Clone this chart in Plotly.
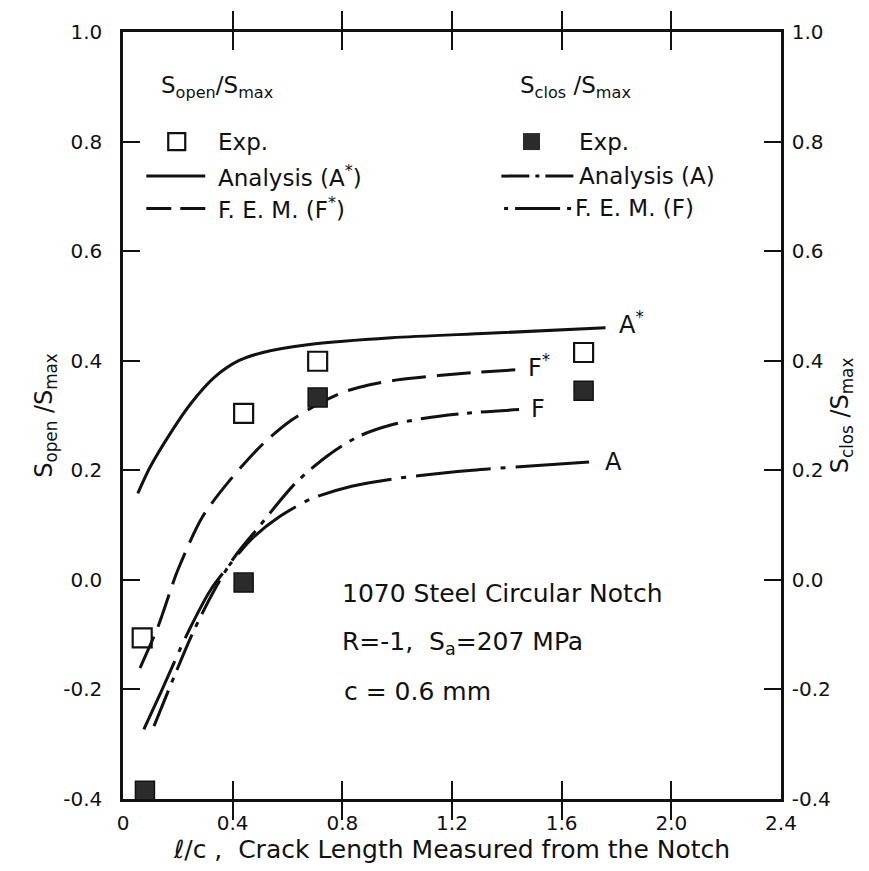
import plotly.graph_objects as go

# ---- data ----
open_exp_x = [0.07, 0.44, 0.71, 1.68]
open_exp_y = [-0.106, 0.304, 0.399, 0.415]
clos_exp_x = [0.08, 0.44, 0.71, 1.68]
clos_exp_y = [-0.385, -0.005, 0.333, 0.345]

a_star_x = [0.054, 0.099, 0.172, 0.246, 0.334, 0.422, 0.51, 0.687, 0.98, 1.33, 1.76]
a_star_y = [0.158, 0.206, 0.267, 0.321, 0.37, 0.40, 0.415, 0.43, 0.442, 0.45, 0.46]

f_star_x = [0.062, 0.128, 0.20, 0.29, 0.39, 0.51, 0.61, 0.716, 0.80, 0.90, 1.00, 1.15, 1.30, 1.45]
f_star_y = [-0.161, -0.085, 0.018, 0.115, 0.182, 0.248, 0.29, 0.322, 0.342, 0.356, 0.365, 0.373, 0.379, 0.384]

f_x = [0.113, 0.187, 0.26, 0.334, 0.407, 0.496, 0.628, 0.75, 0.86, 0.98, 1.10, 1.25, 1.45]
f_y = [-0.267, -0.176, -0.091, -0.018, 0.042, 0.097, 0.176, 0.228, 0.262, 0.283, 0.295, 0.304, 0.311]

a_x = [0.076, 0.143, 0.23, 0.32, 0.393, 0.466, 0.57, 0.687, 0.834, 1.01, 1.275, 1.70]
a_y = [-0.273, -0.20, -0.103, -0.018, 0.03, 0.073, 0.115, 0.148, 0.171, 0.186, 0.20, 0.215]

x_ticks = [0, 0.4, 0.8, 1.2, 1.6, 2.0, 2.4]
x_ticktext = ["0", "0.4", "0.8", "1.2", "1.6", "2.0", "2.4"]
y_ticks = [-0.4, -0.2, 0.0, 0.2, 0.4, 0.6, 0.8, 1.0]
y_ticktext = ["-0.4", "-0.2", "0.0", "0.2", "0.4", "0.6", "0.8", "1.0"]

FONT = "DejaVu Sans"
BLACK = "#111111"
LW = 3
DASH_FSTAR = "34px,11px"
DASH_A = "75px,10px,5px,10px"
DASH_F = "38px,9px,5px,9px"

fig = go.Figure()

def line(x, y, dash):
    fig.add_trace(go.Scatter(x=x, y=y, mode="lines", cliponaxis=False,
                             line=dict(color=BLACK, width=LW, shape="spline",
                                       smoothing=0.8, dash=dash)))

line(a_star_x, a_star_y, "solid")
line(f_star_x, f_star_y, DASH_FSTAR)
line(f_x, f_y, DASH_F)
line(a_x, a_y, DASH_A)

fig.add_trace(go.Scatter(x=open_exp_x, y=open_exp_y, mode="markers", cliponaxis=False,
                         marker=dict(symbol="square-open", size=19, color=BLACK,
                                     line=dict(width=2.2, color=BLACK))))
fig.add_trace(go.Scatter(x=clos_exp_x, y=clos_exp_y, mode="markers", cliponaxis=False,
                         marker=dict(symbol="square", size=19, color="#2b2b2b",
                                     line=dict(width=1.5, color=BLACK))))

# legend symbols
fig.add_trace(go.Scatter(x=[0.196], y=[0.80], mode="markers",
                         marker=dict(symbol="square-open", size=17, color=BLACK,
                                     line=dict(width=2.2, color=BLACK))))
fig.add_trace(go.Scatter(x=[1.49], y=[0.80], mode="markers",
                         marker=dict(symbol="square", size=17, color="#2b2b2b")))
# dummy trace for right axis
fig.add_trace(go.Scatter(x=[0], y=[0], yaxis="y2", mode="markers",
                         marker=dict(opacity=0), hoverinfo="skip"))

shapes = [
    dict(type="line", xref="x", yref="y", x0=0.085, x1=0.30, y0=0.737, y1=0.737,
         line=dict(color=BLACK, width=LW, dash="solid")),
    dict(type="line", xref="x", yref="y", x0=0.085, x1=0.31, y0=0.678, y1=0.678,
         line=dict(color=BLACK, width=LW, dash="25px,9px")),
    dict(type="line", xref="x", yref="y", x0=1.38, x1=1.65, y0=0.737, y1=0.737,
         line=dict(color=BLACK, width=LW, dash="28px,6px,4px,6px")),
    dict(type="line", xref="x", yref="y", x0=1.39, x1=1.64, y0=0.678, y1=0.678,
         line=dict(color=BLACK, width=LW, dash="4px,7px,45px,7px")),
]

ann = []
def txt(x, y, s, size=23, xanchor="left"):
    ann.append(dict(x=x, y=y, xref="x", yref="y", text=s, showarrow=False,
                    xanchor=xanchor, yanchor="middle",
                    font=dict(family=FONT, size=size, color=BLACK)))

txt(0.13, 0.90, "S<sub>open</sub>/S<sub>max</sub>")
txt(0.34, 0.80, "Exp.")
txt(0.34, 0.737, "Analysis (A<sup>*</sup>)")
txt(0.34, 0.678, "F. E. M. (F<sup>*</sup>)")
txt(1.44, 0.90, "S<sub>clos</sub> /S<sub>max</sub>")
txt(1.655, 0.80, "Exp.")
txt(1.655, 0.737, "Analysis (A)")
txt(1.64, 0.678, "F. E. M. (F)")

txt(1.80, 0.468, "A<sup>*</sup>", size=24)
txt(1.47, 0.39, "F<sup>*</sup>", size=24)
txt(1.48, 0.312, "F", size=24)
txt(1.75, 0.215, "A", size=24)

txt(0.79, -0.024, "1070 Steel Circular Notch", size=25)
txt(0.79, -0.115, "R=-1,  S<sub>a</sub>=207 MPa", size=25)
txt(0.80, -0.203, "c = 0.6 mm", size=25)

axis_common = dict(showline=True, linewidth=2.5, linecolor=BLACK,
                   showgrid=False, zeroline=False, tickcolor=BLACK, tickwidth=1.5,
                   tickfont=dict(size=20, family=FONT, color=BLACK))

fig.update_layout(
    width=869, height=871,
    margin=dict(l=115, r=96, t=22, b=80),
    paper_bgcolor="white", plot_bgcolor="white",
    showlegend=False,
    shapes=shapes, annotations=ann,
    font=dict(family=FONT, color=BLACK),
    xaxis=dict(range=[0, 2.4], tickvals=x_ticks, ticktext=x_ticktext,
               ticks="inside", ticklen=18, mirror="allticks", ticklabelstandoff=4,
               title=dict(text="ℓ/c ,  Crack Length Measured from the Notch",
                          font=dict(size=25, family=FONT), standoff=4),
               **axis_common),
    yaxis=dict(range=[-0.4, 1.0], tickvals=y_ticks, ticktext=y_ticktext,
               ticks="inside", ticklen=17, ticklabelstandoff=14,
               title=dict(text="S<sub>open</sub> /S<sub>max</sub>",
                          font=dict(size=24, family=FONT), standoff=4),
               **axis_common),
    yaxis2=dict(range=[-0.4, 1.0], tickvals=y_ticks, ticktext=y_ticktext,
                overlaying="y", side="right",
                ticks="inside", ticklen=17, ticklabelstandoff=4,
                title=dict(text="S<sub>clos</sub> /S<sub>max</sub>",
                           font=dict(size=24, family=FONT), standoff=2),
                **axis_common),
)

fig.write_html("out.html")
